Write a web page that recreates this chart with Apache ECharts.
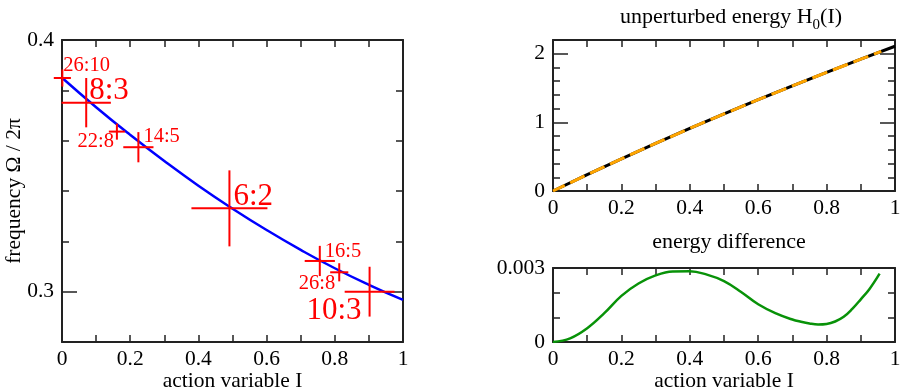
<!DOCTYPE html>
<html>
<head>
<meta charset="utf-8">
<script src="https://cdn.jsdelivr.net/npm/echarts@6/dist/echarts.min.js"></script>
<style>
  html, body { margin: 0; padding: 0; background: #fff; }
  #chart { width: 900px; height: 389px; }
</style>
</head>
<body>
<div id="chart"></div>
<script>
// frequency curve Omega/2pi vs action I (left panel)
const curveAction = [0, 0.1, 0.2, 0.3, 0.4, 0.5, 0.6, 0.7, 0.8, 0.9, 1.0];
const curveFreq = [0.385, 0.3733, 0.3623, 0.3519, 0.3421, 0.333, 0.3245, 0.3166, 0.3093, 0.3027, 0.2967];

// resonances: position, half width (in frequency) and name
const resLabels = ['26:10', '8:3', '22:8', '14:5', '6:2', '16:5', '26:8', '10:3'];
const resAction = [0.001, 0.071, 0.161, 0.224, 0.491, 0.756, 0.813, 0.902];
const resFreq = [0.3849, 0.3751, 0.3636, 0.3574, 0.3331, 0.3122, 0.3077, 0.3000];
const resWidth = [0.0034, 0.0098, 0.0032, 0.006, 0.0151, 0.006, 0.0036, 0.0099];

// unperturbed energy H0(I)
const h0Action = [0, 0.1, 0.2, 0.3, 0.4, 0.5, 0.6, 0.7, 0.8, 0.9, 1.0];
const h0Energy = [0, 0.238, 0.469, 0.694, 0.912, 1.124, 1.330, 1.532, 1.728, 1.920, 2.109];
const fitAction = [0, 0.1, 0.2, 0.3, 0.4, 0.5, 0.6, 0.7, 0.8, 0.9, 0.96];
const fitEnergy = [0, 0.238, 0.469, 0.694, 0.912, 1.124, 1.330, 1.532, 1.728, 1.920, 2.035];

// energy difference
const diffAction = [0, 0.05, 0.1, 0.15, 0.2, 0.25, 0.3, 0.35, 0.4, 0.45, 0.5, 0.55, 0.6, 0.65, 0.7, 0.725, 0.75, 0.775, 0.8, 0.825, 0.85, 0.875, 0.9, 0.925, 0.955];
const diffValue = [0, 0.00015, 0.00056, 0.00117, 0.00187, 0.00237, 0.00270, 0.00286, 0.00287, 0.00273, 0.00247, 0.00203, 0.00153, 0.00117, 0.00091, 0.00082, 0.00075, 0.00071, 0.00073, 0.00083, 0.00102, 0.00134, 0.00173, 0.00214, 0.00277];

const FONT = 'Liberation Serif';
const FS = 21.5;
const AXIS_COLOR = '#222';

// label placement for the resonance names (px from cross centre)
const labelPlace = [
    { dx: 1, dy: -2, align: 'left', size: 20.5 },
    { dx: 3, dy: 4, align: 'left', size: 31 },
    { dx: -3, dy: 21, align: 'right', size: 20.5 },
    { dx: 5, dy: 0, align: 'left', size: 20.5 },
    { dx: 4, dy: 4, align: 'left', size: 31 },
    { dx: 5, dy: 1, align: 'left', size: 20.5 },
    { dx: -4, dy: 22, align: 'right', size: 20.5 },
    { dx: -8, dy: 35, align: 'right', size: 31 }
];

const pair = (xs, ys) => xs.map((x, i) => [x, ys[i]]);
const near = (a, b) => Math.abs(a - b) < 1e-9;

const xLabel = v => (Math.round(v * 10) % 2 === 0 ? String(+v.toFixed(1)) : '');

function xAxis(grid, position, labels, name) {
    return {
        type: 'value', gridIndex: grid, position: position,
        min: 0, max: 1, interval: 0.1,
        axisLine: { show: true, onZero: false, lineStyle: { color: AXIS_COLOR, width: 2 } },
        axisTick: { show: true, inside: true, length: 7, lineStyle: { color: AXIS_COLOR, width: 1.5 } },
        axisLabel: { show: labels, margin: 6, color: '#000', fontFamily: FONT, fontSize: FS, formatter: xLabel },
        splitLine: { show: false },
        name: name || '', nameLocation: 'middle', nameGap: 28, nameMoveOverlap: false,
        nameTextStyle: { color: '#000', fontFamily: FONT, fontSize: FS }
    };
}

function yAxis(grid, position, range, tick, opts) {
    return Object.assign({
        type: 'value', gridIndex: grid, position: position,
        min: range[0], max: range[1], interval: tick.interval,
        axisLine: { show: tick.line, onZero: false, lineStyle: { color: AXIS_COLOR, width: 2 } },
        axisTick: Object.assign({ show: true, inside: true, length: tick.length, lineStyle: { color: AXIS_COLOR, width: 1.5 } }, tick.custom ? { customValues: tick.custom } : {}),
        axisLabel: { show: !!tick.formatter, margin: 8, color: '#000', fontFamily: FONT, fontSize: FS, formatter: tick.formatter },
        splitLine: { show: false }
    }, opts || {});
}

const freqLabel = v => (near(v, 0.3) || near(v, 0.4) ? v.toFixed(1) : '');
const energyLabel = v => (near(v, Math.round(v)) && v < 2.1 ? String(Math.round(v)) : '');
const diffLabel = v => (near(v, 0) ? '0' : near(v, 0.003) ? '0.003' : '');

const chart = echarts.init(document.getElementById('chart'), null, { renderer: 'canvas' });

const option = {
    backgroundColor: '#fff',
    animation: false,
    title: [
        {
            text: 'unperturbed energy H{s|0}(I)', left: 726, top: -3, textAlign: 'center',
            textStyle: {
                color: '#000', fontFamily: FONT, fontSize: 22, fontWeight: 'normal',
                rich: { s: { fontFamily: FONT, fontSize: 15, color: '#000', padding: [16, 0, 0, 0] } }
            }
        },
        {
            text: 'energy difference', left: 724, top: 226, textAlign: 'center',
            textStyle: { color: '#000', fontFamily: FONT, fontSize: 22, fontWeight: 'normal' }
        }
    ],
    grid: [
        { left: 62, top: 40, width: 341, height: 302, outerBoundsMode: 'none' },
        { left: 553, top: 40, width: 342, height: 151, outerBoundsMode: 'none' },
        { left: 553, top: 268, width: 342, height: 74, outerBoundsMode: 'none' }
    ],
    xAxis: [
        xAxis(0, 'bottom', true, 'action variable I'),
        xAxis(0, 'top', false),
        xAxis(1, 'bottom', true),
        xAxis(1, 'top', false),
        xAxis(2, 'bottom', true, 'action variable I'),
        xAxis(2, 'top', false)
    ],
    yAxis: [
        yAxis(0, 'left', [0.28, 0.4], { interval: 0.02, length: 7, line: true, formatter: freqLabel }, {
            name: 'frequency \u03A9 / 2\u03C0', nameLocation: 'middle', nameGap: 37, nameMoveOverlap: false,
            nameTextStyle: { color: '#000', fontFamily: FONT, fontSize: FS }
        }),
        yAxis(0, 'right', [0.28, 0.4], { interval: 0.02, length: 7, line: true }),
        yAxis(0, 'left', [0.28, 0.4], { interval: 0.02, length: 15, line: false, custom: [0.3, 0.4] }),
        yAxis(0, 'right', [0.28, 0.4], { interval: 0.02, length: 15, line: false, custom: [0.3, 0.4] }),
        yAxis(1, 'left', [0, 2.2], { interval: 0.2, length: 7, line: true, formatter: energyLabel }),
        yAxis(1, 'right', [0, 2.2], { interval: 0.2, length: 7, line: true }),
        yAxis(1, 'left', [0, 2.2], { interval: 1, length: 15, line: false }),
        yAxis(1, 'right', [0, 2.2], { interval: 1, length: 15, line: false }),
        yAxis(2, 'left', [0, 0.003], { interval: 0.001, length: 7, line: true, formatter: diffLabel }),
        yAxis(2, 'right', [0, 0.003], { interval: 0.001, length: 7, line: true })
    ],
    series: [
        {
            type: 'line', xAxisIndex: 0, yAxisIndex: 0, smooth: true, showSymbol: false,
            data: pair(curveAction, curveFreq),
            lineStyle: { color: '#0000ff', width: 2.5 }, z: 3
        },
        {
            type: 'custom', xAxisIndex: 0, yAxisIndex: 0, z: 4,
            data: resAction.map((x, i) => [x, resFreq[i], resWidth[i]]),
            renderItem: function (params, api) {
                const c = api.coord([api.value(0), api.value(1)]);
                const t = api.coord([api.value(0), api.value(1) + api.value(2)]);
                const h = c[1] - t[1];
                const p = labelPlace[params.dataIndex];
                const st = { stroke: '#ff0000', lineWidth: 2 };
                return {
                    type: 'group',
                    children: [
                        { type: 'line', shape: { x1: c[0] - h, y1: c[1], x2: c[0] + h, y2: c[1] }, style: st },
                        { type: 'line', shape: { x1: c[0], y1: c[1] - h, x2: c[0], y2: c[1] + h }, style: st },
                        {
                            type: 'text', x: c[0] + p.dx, y: c[1] + p.dy,
                            style: {
                                text: resLabels[params.dataIndex], fill: '#ff0000',
                                font: p.size + 'px "' + FONT + '"', align: p.align, verticalAlign: 'bottom'
                            }
                        }
                    ]
                };
            }
        },
        {
            type: 'line', xAxisIndex: 2, yAxisIndex: 4, showSymbol: false,
            data: pair(h0Action, h0Energy),
            lineStyle: { color: '#000', width: 3 }, z: 3
        },
        {
            type: 'line', xAxisIndex: 2, yAxisIndex: 4, showSymbol: false,
            data: pair(fitAction, fitEnergy),
            lineStyle: { color: '#ffa500', width: 3, type: [16, 6], dashOffset: 3 }, z: 4
        },
        {
            type: 'line', xAxisIndex: 4, yAxisIndex: 8, smooth: 0.4, showSymbol: false,
            data: pair(diffAction, diffValue),
            lineStyle: { color: '#089208', width: 2.5 }, z: 3
        }
    ]
};

chart.setOption(option);
</script>
</body>
</html>
